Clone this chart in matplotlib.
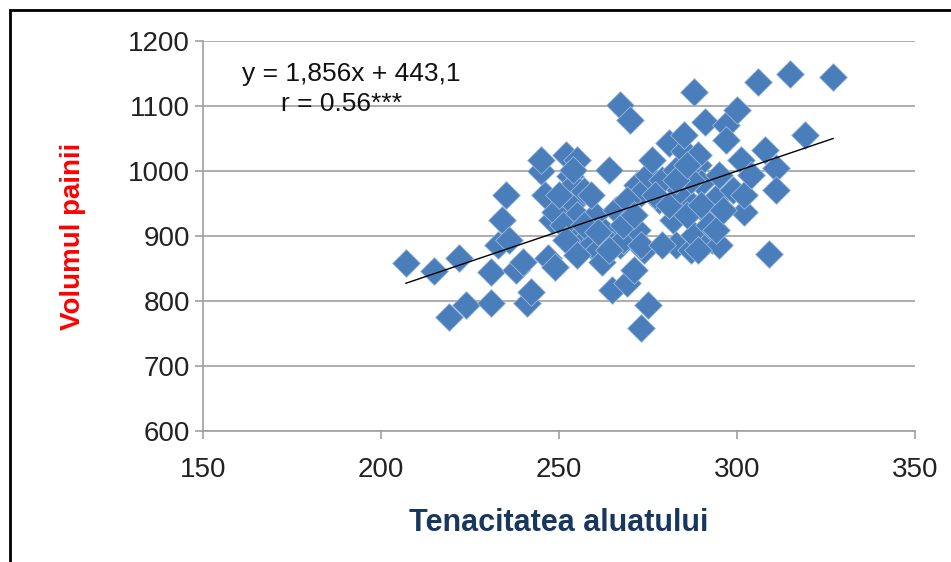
import numpy as np
import matplotlib
matplotlib.use('Agg')
from matplotlib import pyplot as plt
from matplotlib.patches import Rectangle

# tenacitatea aluatului (x) / volumul painii (y)
tenacitate = [207, 215, 222, 219, 224, 231, 231, 233, 234, 235, 236, 238, 240, 241, 242,
              245, 245, 246, 247, 248, 249, 249, 252, 253, 254, 254, 255, 255, 256, 256,
              257, 259, 260, 261, 263, 264, 265, 265, 267, 267, 268, 269, 270, 271, 272,
              272, 273, 273, 274, 275, 275, 276, 278, 279, 281, 282, 283, 283, 285, 285,
              286, 287, 288, 288, 289, 290, 291, 292, 293, 294, 295, 295, 297, 297, 299,
              300, 301, 302, 302, 304, 306, 308, 309, 311, 311, 315, 319, 327,
              250, 251, 252, 257, 261, 262, 264, 266, 268, 269, 271, 273, 277, 279, 281,
              284, 286, 287, 289, 290, 292, 294, 296, 289, 283, 286, 255, 259, 254]
volum = [858, 846, 866, 775, 794, 797, 845, 886, 925, 963, 894, 848, 860, 797, 814,
         1000, 1017, 963, 866, 925, 937, 852, 1025, 992, 978, 951, 932, 1017, 906, 886,
         969, 886, 932, 878, 906, 1002, 886, 817, 886, 1102, 894, 828, 1078, 848, 909,
         978, 966, 758, 878, 794, 994, 1017, 955, 986, 1043, 925, 886, 1002, 1031, 1055,
         955, 878, 901, 1122, 1009, 982, 1075, 932, 894, 958, 994, 886, 1071, 1048, 971,
         1094, 1017, 937, 963, 994, 1137, 1032, 872, 1005, 971, 1149, 1055, 1145,
         963, 917, 894, 917, 906, 860, 878, 940, 917, 955, 932, 886, 963, 886, 948,
         971, 932, 986, 1025, 948, 917, 909, 940, 878, 986, 1009, 871, 963, 1002]

slope, intercept = 1.856, 443.1
x_ticks = [150, 200, 250, 300, 350]
y_ticks = [600, 700, 800, 900, 1000, 1100, 1200]

plt.rcParams['font.family'] = ['Liberation Sans Narrow', 'Liberation Sans', 'DejaVu Sans']

fig = plt.figure(figsize=(9.51, 5.62), dpi=100)
ax = fig.add_axes([203/951, 1-431/562, (915-203)/951, (431-41)/562])

# frame around the chart (only left/top visible in the crop)
fig.patches.append(Rectangle((10/951, -0.1), 1.2, 1-10/562+0.1, transform=fig.transFigure,
                             fill=False, edgecolor='black', linewidth=2))

ax.set_xlim(150, 350)
ax.set_ylim(600, 1200)
ax.set_xticks(x_ticks)
ax.set_yticks(y_ticks)
ax.grid(axis='y', color='#a0a0a0', linewidth=1.2)
ax.set_axisbelow(True)
for s in ['top', 'right']:
    ax.spines[s].set_visible(False)
for s in ['left', 'bottom']:
    ax.spines[s].set_color('#a0a0a0')
    ax.spines[s].set_linewidth(1.2)
ax.tick_params(axis='both', colors='#a0a0a0', length=6, width=1.2, labelcolor='#222222',
               labelsize=20)
ax.tick_params(axis='x', pad=13)

ax.scatter(tenacitate, volum, marker='D', s=200, color='#4A7EBB', edgecolor='#9ab8de',
           linewidth=0.6, zorder=3)

xl = np.array([min(tenacitate), max(tenacitate)])
ax.plot(xl, slope * xl + intercept, color='black', linewidth=1, zorder=4)

ax.text(161, 1150, 'y = 1,856x + 443,1', fontsize=19, ha='left', va='center', color='#111111')
ax.text(172, 1103, 'r = 0.56***', fontsize=19, ha='left', va='center', color='#111111')

ax.set_xlabel('Tenacitatea aluatului', fontsize=22, fontweight='bold', color='#17375E',
              labelpad=18)
ax.set_ylabel('Volumul painii', fontsize=20, fontweight='bold', color='#FF0000',
              family=['Liberation Sans', 'DejaVu Sans'], labelpad=30)

fig.savefig('out.png', dpi=100)
